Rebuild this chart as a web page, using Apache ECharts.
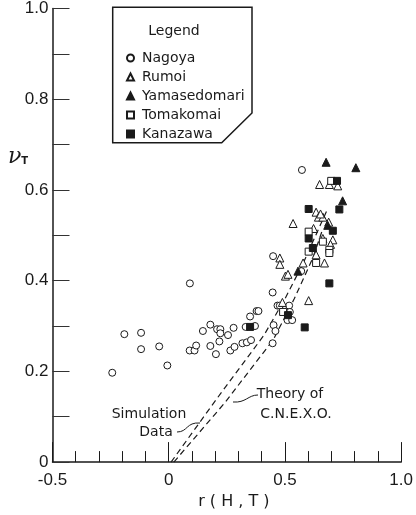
<!DOCTYPE html>
<html><head><meta charset="utf-8">
<script src="https://cdn.jsdelivr.net/npm/echarts@6/dist/echarts.min.js"></script>
<style>html,body{margin:0;padding:0;background:#fff}#c{width:416px;height:515px}</style>
</head><body><div id="c"></div>
<script>
const xTicks = [-0.5, 0, 0.5, 1.0];
const yTicks = [0, 0.2, 0.4, 0.6, 0.8, 1.0];
const nagoya = [[-0.243,0.197],[-0.191,0.282],[-0.119,0.285],[-0.119,0.249],[-0.041,0.255],[-0.006,0.213],
  [0.091,0.394],[0.090,0.246],[0.111,0.246],[0.118,0.257],[0.147,0.289],[0.179,0.303],[0.179,0.256],
  [0.203,0.238],[0.208,0.293],[0.222,0.293],[0.218,0.266],[0.222,0.284],[0.255,0.280],[0.265,0.246],
  [0.283,0.254],[0.279,0.296],[0.317,0.262],[0.336,0.264],[0.354,0.269],[0.350,0.321],[0.371,0.300],
  [0.378,0.333],[0.386,0.333],[0.331,0.298],[0.447,0.262],[0.451,0.302],[0.459,0.289],[0.447,0.374],
  [0.449,0.454],[0.468,0.345],[0.478,0.345],[0.518,0.345],[0.521,0.331],[0.511,0.313],[0.531,0.313],
  [0.495,0.331],[0.570,0.421],[0.573,0.644]];
const rumoi = [[0.535,0.526],[0.478,0.450],[0.478,0.436],[0.502,0.410],[0.513,0.414],[0.489,0.352],
  [0.578,0.439],[0.602,0.356],[0.623,0.515],[0.634,0.551],[0.644,0.540],[0.663,0.540],[0.653,0.547],
  [0.688,0.529],[0.663,0.493],[0.706,0.490],[0.696,0.480],[0.634,0.457],[0.670,0.439],[0.649,0.612],
  [0.691,0.612],[0.727,0.609]];
const yamasedomari = [[0.677,0.661],[0.805,0.649],[0.748,0.576],[0.684,0.522],[0.556,0.421]];
const tomakomai = [[0.602,0.508],[0.602,0.464],[0.663,0.486],[0.691,0.468],[0.691,0.461],[0.634,0.439],
  [0.699,0.620],[0.492,0.331]];
const kanazawa = [[0.724,0.620],[0.602,0.558],[0.734,0.557],[0.706,0.510],[0.602,0.493],[0.620,0.472],
  [0.691,0.394],[0.585,0.297],[0.350,0.298],[0.513,0.324]];
const simulation = [[0.01,0.0],[0.20,0.135],[0.41,0.28],[0.50,0.36],[0.58,0.44],[0.65,0.52],[0.685,0.56]];
const theory = [[0.022,0.0],[0.24,0.13],[0.45,0.27],[0.54,0.36],[0.62,0.45],[0.66,0.51]];

const ink = '#1a1a1a';
const chart = echarts.init(document.getElementById('c'));
function sc(name, data, symbol, filled, size) {
  return {name, type:'scatter', data, symbol, symbolSize:size,
    itemStyle:{color: filled?ink:'#fff', borderColor:ink, borderWidth:1, opacity:1}, z:3};
}
chart.setOption({
  animation:false,
  backgroundColor:'#fff',
  grid:{left:52.5, right:12, top:6.2, bottom:47.3},
  xAxis:{type:'value', min:-0.5, max:1.0, interval:0.5,
    axisLine:{show:true, onZero:false, lineStyle:{color:ink, width:1.5}},
    axisTick:{show:true, inside:true, length:20, lineStyle:{color:ink, width:1}},
    minorTick:{show:true, splitNumber:5, length:11, lineStyle:{color:ink, width:1}},
    splitLine:{show:false},
    axisLabel:{margin:10, fontSize:17, color:ink, fontFamily:'Liberation Sans',
      formatter:v=>{const t=xTicks.find(a=>Math.abs(a-v)<1e-9); return t===undefined?'':(t===0?'0':t.toFixed(1));}},
    name:'r ( H , T )', nameLocation:'middle', nameGap:31,
    nameTextStyle:{fontSize:16, color:ink, fontFamily:'DejaVu Sans', padding:[0,0,0,14]}
  },
  yAxis:{type:'value', min:0, max:1.0, interval:0.2,
    axisLine:{show:true, onZero:false, lineStyle:{color:ink, width:1.5}},
    axisTick:{show:true, inside:true, length:17, lineStyle:{color:'#333', width:1}},
    minorTick:{show:true, splitNumber:2, length:17, lineStyle:{color:'#333', width:1}},
    splitLine:{show:false},
    axisLabel:{margin:4, fontSize:17, color:ink, fontFamily:'Liberation Sans',
      formatter:v=>{const t=yTicks.find(a=>Math.abs(a-v)<1e-9); return t===undefined?'':(t===0?'0':t.toFixed(1));}}
  },
  legend:{orient:'vertical', left:121, top:45, itemGap:3, itemWidth:7, itemHeight:7,
    data:['Nagoya','Rumoi','Yamasedomari','Tomakomai','Kanazawa'],
    textStyle:{fontSize:14, lineHeight:16, color:ink, fontFamily:'DejaVu Sans', padding:[0,0,0,3]}},
  graphic:[
    {type:'polygon', shape:{points:[[112.7,7.3],[252,7.3],[252,113],[221.7,142.7],[112.7,142.7]]},
      style:{fill:'none', stroke:ink, lineWidth:1.5}, z:10},
    {type:'text', x:174, y:31, style:{text:'Legend', fill:ink, font:'14px "DejaVu Sans"', textAlign:'center', textVerticalAlign:'middle'}, z:10},
    {type:'text', x:8, y:157, style:{rich:{a:{fontSize:22, fontStyle:'italic', fontFamily:'DejaVu Serif', fill:ink}, b:{fontSize:10, fontFamily:'DejaVu Sans', fontWeight:'bold', fill:ink, padding:[8,0,0,0]}}, text:'{a|ν}{b|T}', textVerticalAlign:'middle'}, z:10},
    {type:'text', x:149, y:414, style:{text:'Simulation', fill:ink, font:'14px "DejaVu Sans"', textAlign:'center', textVerticalAlign:'middle'}, z:10},
    {type:'text', x:156, y:432, style:{text:'Data', fill:ink, font:'14px "DejaVu Sans"', textAlign:'center', textVerticalAlign:'middle'}, z:10},
    {type:'text', x:290, y:394, style:{text:'Theory of', fill:ink, font:'14px "DejaVu Sans"', textAlign:'center', textVerticalAlign:'middle'}, z:10},
    {type:'text', x:296, y:414, style:{text:'C.N.E.X.O.', fill:ink, font:'14px "DejaVu Sans"', textAlign:'center', textVerticalAlign:'middle'}, z:10},
    {type:'bezierCurve', shape:{x1:177, y1:432, cpx1:188, cpy1:432, cpx2:186, cpy2:422, x2:200, y2:423}, style:{stroke:ink, lineWidth:1, fill:'none'}, z:10},
    {type:'bezierCurve', shape:{x1:258, y1:395, cpx1:248, cpy1:395, cpx2:246, cpy2:403, x2:233, y2:402}, style:{stroke:ink, lineWidth:1, fill:'none'}, z:10}
  ],
  series:[
    sc('Nagoya', nagoya, 'circle', false, 7),
    sc('Rumoi', rumoi, 'triangle', false, 8),
    sc('Yamasedomari', yamasedomari, 'triangle', true, 8),
    sc('Tomakomai', tomakomai, 'rect', false, 7),
    sc('Kanazawa', kanazawa, 'rect', true, 7),
    {name:'Simulation Data', type:'line', data:simulation, showSymbol:false, symbol:'none', z:2,
      lineStyle:{color:ink, width:1.2, type:[6,4]}},
    {name:'Theory of C.N.E.X.O.', type:'line', data:theory, showSymbol:false, symbol:'none', z:2,
      lineStyle:{color:ink, width:1.2, type:[6,4]}}
  ]
});
</script></body></html>
